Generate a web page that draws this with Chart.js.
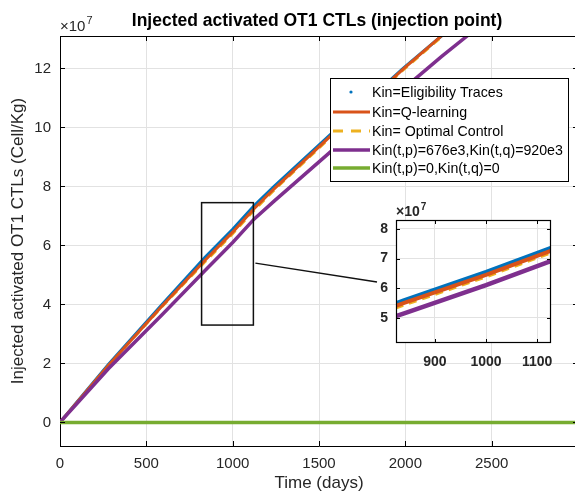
<!DOCTYPE html>
<html>
<head>
<meta charset="utf-8">
<script src="https://cdn.jsdelivr.net/npm/chart.js@4/dist/chart.umd.min.js"></script>
<style>
  html, body { margin: 0; padding: 0; background: #fff; overflow: hidden; width: 575px; height: 495px; }
  #wrap { position: relative; width: 575px; height: 495px; overflow: hidden; }
  #mainChart { position: absolute; left: 0; top: 0; }
  #insetChart { position: absolute; left: 360px; top: 195px; }
</style>
</head>
<body>
<div id="wrap">
  <canvas id="mainChart" width="580" height="495"></canvas>
  <canvas id="insetChart" width="215" height="185"></canvas>
</div>
<script>
// time axis (days) and the series (values in cells/kg)
const days = [0, 280, 591, 840, 1000, 1125, 1240, 1611, 1987, 2209, 2358, 2600, 3000];
const eligibility = [0, 1.96e7, 4.0e7, 5.6e7, 6.55e7, 7.35e7, 8.0e7, 10.0e7, 12.0e7, 13.1e7, 13.9e7, 15.1e7, 17.2e7];
const qLearning   = [0, 1.93e7, 3.95e7, 5.5e7, 6.45e7, 7.25e7, 7.92e7, 9.95e7, 11.98e7, 13.1e7, 13.9e7, 15.1e7, 17.2e7];
const optimal     = [0, 1.92e7, 3.92e7, 5.44e7, 6.39e7, 7.19e7, 7.87e7, 9.9e7, 11.94e7, 13.06e7, 13.86e7, 15.06e7, 17.16e7];
const fixedKin    = [0, 1.82e7, 3.65e7, 5.15e7, 6.1e7, 6.9e7, 7.5e7, 9.4e7, 11.3e7, 12.4e7, 13.1e7, 14.3e7, 16.3e7];
const zeroKin     = [0, 0, 0, 0, 0, 0, 0, 0, 0, 0, 0, 0, 0];

const seriesNames = ['Kin=Eligibility Traces', 'Kin=Q-learning', 'Kin= Optimal Control',
  'Kin(t,p)=676e3,Kin(t,q)=920e3', 'Kin(t,p)=0,Kin(t,q)=0'];
const seriesColors = ['#0072BD', '#D95319', '#EDB120', '#7E2F8E', '#77AC30'];
// drawing order: lower number ends up on top
const seriesOrder = [4, 2, 3, 1, 0];

const xTicks = [0, 500, 1000, 1500, 2000, 2500];
const yTicks = [0, 2e7, 4e7, 6e7, 8e7, 10e7, 12e7];
const insetXTicks = [900, 1000, 1100];
const insetYTicks = [5e7, 6e7, 7e7, 8e7];

// zoomed region shown in the inset
const zoomBox = { x0: 820, x1: 1120, y0: 3.3e7, y1: 7.45e7 };

const FONT = 'Liberation Sans, Arial, Helvetica, sans-serif';
const TXT = '#262626';

function pts(vals) {
  return days.map((d, i) => ({ x: d, y: vals[i] }));
}

function makeDatasets(w) {
  const all = [eligibility, qLearning, optimal, fixedKin, zeroKin];
  return all.map((vals, i) => ({
    label: seriesNames[i],
    data: pts(vals),
    borderColor: seriesColors[i],
    backgroundColor: seriesColors[i],
    borderWidth: i === 2 ? w - 0.5 : (i >= 3 ? w + 0.5 : w),
    borderDash: i === 2 ? [8, 6] : [],
    pointRadius: 0,
    tension: 0,
    fill: false,
    order: seriesOrder[i]
  }));
}

function drawTicksInward(chart, xt, yt, len) {
  const { ctx, chartArea: a, scales } = chart;
  ctx.save();
  ctx.strokeStyle = '#000';
  ctx.lineWidth = 1;
  ctx.beginPath();
  xt.forEach(v => {
    const x = Math.round(scales.x.getPixelForValue(v)) + 0.5;
    ctx.moveTo(x, a.bottom); ctx.lineTo(x, a.bottom - len);
    ctx.moveTo(x, a.top); ctx.lineTo(x, a.top + len);
  });
  yt.forEach(v => {
    const y = Math.round(scales.y.getPixelForValue(v)) + 0.5;
    ctx.moveTo(a.left, y); ctx.lineTo(a.left + len, y);
    ctx.moveTo(a.right, y); ctx.lineTo(a.right - len, y);
  });
  ctx.stroke();
  ctx.restore();
}

function drawTimes10(ctx, x, y, bold, size) {
  ctx.save();
  ctx.fillStyle = TXT;
  ctx.textBaseline = 'alphabetic';
  ctx.textAlign = 'left';
  const w = bold ? 'bold ' : '';
  ctx.font = w + size + 'px ' + FONT;
  ctx.fillText('\u00d710', x, y);
  const tw = ctx.measureText('\u00d710').width;
  ctx.font = w + Math.round(size * 0.72) + 'px ' + FONT;
  ctx.fillText('7', x + tw + 1, y - size * 0.45);
  ctx.restore();
}

const mainDecor = {
  id: 'mainDecor',
  afterDatasetsDraw(chart) {
    const { ctx, chartArea: a, scales } = chart;
    // top box edge
    ctx.save();
    ctx.strokeStyle = '#000';
    ctx.lineWidth = 1;
    ctx.beginPath();
    ctx.moveTo(a.left, a.top + 0.5);
    ctx.lineTo(a.right, a.top + 0.5);
    ctx.stroke();
    ctx.restore();
    drawTicksInward(chart, xTicks, yTicks, 5);

    // zoom rectangle
    const rx0 = scales.x.getPixelForValue(zoomBox.x0);
    const rx1 = scales.x.getPixelForValue(zoomBox.x1);
    const ry0 = scales.y.getPixelForValue(zoomBox.y1);
    const ry1 = scales.y.getPixelForValue(zoomBox.y0);
    ctx.save();
    ctx.strokeStyle = '#111';
    ctx.lineWidth = 1.5;
    ctx.strokeRect(rx0, ry0, rx1 - rx0, ry1 - ry0);
    // connector to the inset
    ctx.beginPath();
    ctx.moveTo(rx1 + 2, scales.y.getPixelForValue(5.4e7));
    ctx.lineTo(377, 282);
    ctx.stroke();
    ctx.restore();

    // legend
    const lx = 330, ly = 78, lw = 238, lh = 103;
    ctx.save();
    ctx.fillStyle = '#fff';
    ctx.fillRect(lx, ly, lw, lh);
    ctx.strokeStyle = '#000';
    ctx.lineWidth = 1;
    ctx.strokeRect(lx + 0.5, ly + 0.5, lw, lh);
    const rows = [92, 112, 131, 150, 168];
    ctx.font = '14.2px ' + FONT;
    ctx.textBaseline = 'middle';
    rows.forEach((ry, i) => {
      ctx.strokeStyle = seriesColors[i];
      ctx.fillStyle = seriesColors[i];
      if (i === 0) {
        ctx.beginPath();
        ctx.arc(351, ry, 1.6, 0, Math.PI * 2);
        ctx.fill();
      } else {
        ctx.lineWidth = i >= 3 ? 3.5 : 3;
        ctx.setLineDash(i === 2 ? [10, 8] : []);
        ctx.beginPath();
        ctx.moveTo(333, ry);
        ctx.lineTo(370, ry);
        ctx.stroke();
        ctx.setLineDash([]);
      }
      ctx.fillStyle = '#000';
      ctx.fillText(seriesNames[i], 372, ry + 1);
    });
    ctx.restore();

    // title and exponent
    ctx.save();
    ctx.fillStyle = '#000';
    ctx.font = 'bold 17.5px ' + FONT;
    ctx.textAlign = 'center';
    ctx.textBaseline = 'middle';
    ctx.fillText('Injected activated OT1 CTLs (injection point)', 317, 21);
    ctx.restore();
    drawTimes10(ctx, a.left, 31, false, 15);
  }
};

const mainChart = new Chart(document.getElementById('mainChart'), {
  type: 'line',
  data: { datasets: makeDatasets(3) },
  options: {
    responsive: false,
    animation: false,
    layout: { padding: { top: 36, right: 2, left: 0, bottom: 0 } },
    plugins: { legend: { display: false }, tooltip: { enabled: false }, title: { display: false } },
    scales: {
      x: {
        type: 'linear',
        min: 0,
        max: 3000,
        afterBuildTicks: s => { s.ticks = xTicks.map(v => ({ value: v })); },
        afterFit: s => { s.height = 49; s.paddingLeft = 0; s.paddingRight = 0; },
        ticks: { padding: 9, color: TXT, font: { family: FONT, size: 15 }, maxRotation: 0, callback: v => String(v) },
        grid: { color: '#e2e2e2', drawTicks: false },
        border: { color: '#000', width: 1 },
        title: { display: true, text: 'Time (days)', color: TXT, font: { family: FONT, size: 17 }, padding: { top: 0, bottom: 1 } }
      },
      y: {
        min: -0.8e7,
        max: 13.1e7,
        afterBuildTicks: s => { s.ticks = yTicks.map(v => ({ value: v })); },
        afterFit: s => { s.width = 60; s.paddingTop = 0; s.paddingBottom = 0; },
        ticks: { padding: 9, color: TXT, font: { family: FONT, size: 15 }, callback: v => String(Math.round(v / 1e7)) },
        grid: { color: '#e2e2e2', drawTicks: false },
        border: { color: '#000', width: 1 },
        title: { display: true, text: 'Injected activated OT1 CTLs (Cell/Kg)', color: TXT, font: { family: FONT, size: 17 }, padding: { top: 8, bottom: 0 } }
      }
    }
  },
  plugins: [mainDecor]
});

const insetDecor = {
  id: 'insetDecor',
  beforeDraw(chart) {
    const { ctx, chartArea: a } = chart;
    ctx.save();
    ctx.fillStyle = '#fff';
    ctx.fillRect(a.left, a.top, a.right - a.left, a.bottom - a.top);
    ctx.restore();
  },
  afterDatasetsDraw(chart) {
    const { ctx, chartArea: a } = chart;
    ctx.save();
    ctx.strokeStyle = '#000';
    ctx.lineWidth = 1.2;
    ctx.strokeRect(a.left + 0.5, a.top + 0.5, a.right - a.left - 1, a.bottom - a.top - 1);
    ctx.restore();
    drawTicksInward(chart, insetXTicks, insetYTicks, 4);
    drawTimes10(ctx, a.left, a.top - 4, true, 14);
  }
};

const insetChart = new Chart(document.getElementById('insetChart'), {
  type: 'line',
  data: { datasets: makeDatasets(4) },
  options: {
    responsive: false,
    animation: false,
    layout: { padding: { top: 25, right: 24, left: 0, bottom: 0 } },
    plugins: { legend: { display: false }, tooltip: { enabled: false } },
    scales: {
      x: {
        type: 'linear',
        min: 824,
        max: 1127,
        afterBuildTicks: s => { s.ticks = insetXTicks.map(v => ({ value: v })); },
        afterFit: s => { s.height = 37; s.paddingLeft = 0; s.paddingRight = 0; },
        ticks: { padding: 11, color: TXT, font: { family: FONT, size: 14, weight: 'bold' }, maxRotation: 0, callback: v => String(v) },
        grid: { color: '#e2e2e2', drawTicks: false },
        border: { display: false }
      },
      y: {
        min: 4.15e7,
        max: 8.3e7,
        afterBuildTicks: s => { s.ticks = insetYTicks.map(v => ({ value: v })); },
        afterFit: s => { s.width = 36; s.paddingTop = 0; s.paddingBottom = 0; },
        ticks: { padding: 8, color: TXT, font: { family: FONT, size: 14, weight: 'bold' }, callback: v => String(Math.round(v / 1e7)) },
        grid: { color: '#e2e2e2', drawTicks: false },
        border: { display: false }
      }
    }
  },
  plugins: [insetDecor]
});
</script>
</body>
</html>
